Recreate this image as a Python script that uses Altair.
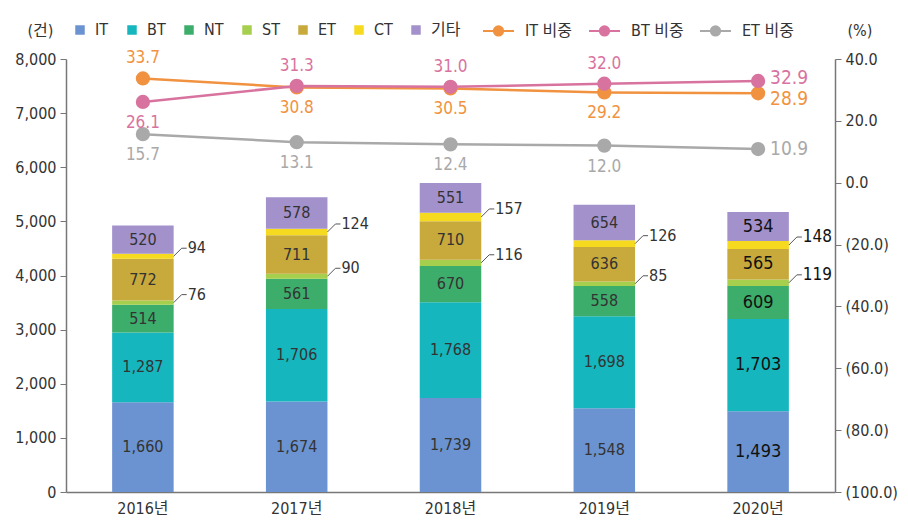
import altair as alt
import pandas as pd

years = ["2016년", "2017년", "2018년", "2019년", "2020년"]
categories = ["IT", "BT", "NT", "ST", "ET", "CT", "기타"]
it_vals = [1660, 1674, 1739, 1548, 1493]
bt_vals = [1287, 1706, 1768, 1698, 1703]
nt_vals = [514, 561, 670, 558, 609]
st_vals = [76, 90, 116, 85, 119]
et_vals = [772, 711, 710, 636, 565]
ct_vals = [94, 124, 157, 126, 148]
etc_vals = [520, 578, 551, 654, 534]
it_share = [33.7, 30.8, 30.5, 29.2, 28.9]
bt_share = [26.1, 31.3, 31.0, 32.0, 32.9]
et_share = [15.7, 13.1, 12.4, 12.0, 10.9]
bar_colors = ["#6b93d1", "#16b6bf", "#3dad6b", "#a6cf4d", "#c8a93c", "#f6da20", "#a391cc"]
line_series = ["IT 비중", "BT 비중", "ET 비중"]
line_colors = ["#f19241", "#d8739f", "#a9a9a9"]
it_pos = ["above", "below", "below", "below", "right_down"]
bt_pos = ["below", "above", "above", "above", "right_up"]
et_pos = ["below", "below", "below", "below", "right"]
outside_cats = ["ST", "CT"]

FONT = "DejaVu Sans Condensed, Roboto, Noto Sans CJK KR, sans-serif"
TXT = "#333333"

# ---- tables ----
series_vals = [it_vals, bt_vals, nt_vals, st_vals, et_vals, ct_vals, etc_vals]
rows = []
for yi, y in enumerate(years):
    base = 0
    for ci, c in enumerate(categories):
        v = series_vals[ci][yi]
        rows.append(dict(year=y, cat=c, value=v, low=base, high=base + v,
                         mid=base + v / 2, label=f"{v:,}",
                         outside=c in outside_cats, emph=(yi == len(years) - 1)))
        base += v
bar_df = pd.DataFrame(rows)

lrows = []
for name, vals, pos in zip(line_series, [it_share, bt_share, et_share], [it_pos, bt_pos, et_pos]):
    for yi, y in enumerate(years):
        lrows.append(dict(year=y, series=name, value=vals[yi], pos=pos[yi],
                          emph=(yi == len(years) - 1)))
line_df = pd.DataFrame(lrows)

x_scale = alt.Scale(domain=years, paddingInner=0.6, paddingOuter=0.3)
x_axis = alt.Axis(title=None, ticks=False, domainColor="#777777", domainWidth=1.5,
                  labelFontSize=16, labelColor=TXT, labelPadding=8, labelAngle=0)
y_scale = alt.Scale(domain=[0, 8000], nice=False)
yr_scale = alt.Scale(domain=[-100, 40], nice=False)

bar_color_scale = alt.Scale(domain=categories, range=bar_colors)
line_color_scale = alt.Scale(domain=line_series, range=line_colors)

# ---- left group: bars ----
bars = alt.Chart(bar_df).mark_bar().encode(
    x=alt.X("year:N", sort=years, scale=x_scale, axis=x_axis),
    y=alt.Y("low:Q", scale=y_scale,
            axis=alt.Axis(values=list(range(0, 8001, 1000)), format=",d", grid=False,
                          title="(건)", titleAngle=0, titleX=-39, titleY=-29,
                          titleAlign="left", titleBaseline="middle",
                          titleFontWeight="normal", titleFontSize=16, titleColor=TXT,
                          labelFontSize=16, labelColor=TXT, tickSize=6,
                          tickColor="#777777", domainColor="#777777", domainWidth=1.5,
                          labelPadding=4)),
    y2="high:Q",
    color=alt.Color("cat:N", scale=bar_color_scale,
                    legend=alt.Legend(title=None, orient="none", legendX=6, legendY=-37,
                                      direction="horizontal", symbolType="square",
                                      symbolSize=90, labelFontSize=16, labelColor=TXT,
                                      labelOffset=7, columnPadding=15,
                                      symbolStrokeWidth=0)),
)

inside_labels = alt.Chart(bar_df).transform_filter("!datum.outside").mark_text(
    baseline="middle", align="center").encode(
    x=alt.X("year:N", sort=years, scale=x_scale),
    y=alt.Y("mid:Q", scale=y_scale),
    text="label:N",
    color=alt.condition("datum.emph", alt.value("#111111"), alt.value(TXT)),
    size=alt.condition("datum.emph", alt.value(18), alt.value(16)),
)

leader_diag = alt.Chart(bar_df).transform_filter("datum.outside").mark_rule(
    color="#555555", strokeWidth=1, x2Offset=8, y2Offset=-8).encode(
    x=alt.X("year:N", sort=years, scale=x_scale, bandPosition=1),
    x2=alt.X2("year:N", bandPosition=1),
    y=alt.Y("mid:Q", scale=y_scale),
    y2="mid:Q",
)
leader_flat = alt.Chart(bar_df).transform_filter("datum.outside").mark_rule(
    color="#555555", strokeWidth=1, xOffset=8, yOffset=-8, x2Offset=13, y2Offset=-8).encode(
    x=alt.X("year:N", sort=years, scale=x_scale, bandPosition=1),
    x2=alt.X2("year:N", bandPosition=1),
    y=alt.Y("mid:Q", scale=y_scale),
    y2="mid:Q",
)
outside_labels = alt.Chart(bar_df).transform_filter("datum.outside").mark_text(
    baseline="middle", align="left", dx=14, dy=-8).encode(
    x=alt.X("year:N", sort=years, scale=x_scale, bandPosition=1),
    y=alt.Y("mid:Q", scale=y_scale),
    text="label:N",
    color=alt.condition("datum.emph", alt.value("#111111"), alt.value(TXT)),
    size=alt.condition("datum.emph", alt.value(17), alt.value(16)),
)

left = alt.layer(bars, inside_labels, leader_diag, leader_flat, outside_labels)

# ---- right group: share lines ----
yr_axis = alt.Axis(orient="right", values=list(range(-100, 41, 20)), grid=False,
                   labelExpr="datum.value < 0 ? '(' + format(-datum.value, '.1f') + ')' : format(datum.value, '.1f')",
                   title="(%)", titleAngle=0, titleX=12, titleY=-29, titleAlign="left",
                   titleBaseline="middle", titleFontWeight="normal", titleFontSize=16,
                   titleColor=TXT, labelFontSize=16, labelColor=TXT, tickSize=6,
                   tickColor="#777777", domainColor="#777777", domainWidth=1.5,
                   labelPadding=4)

legend_path = "M-1,0L1,0M0.3,0A0.3,0.3,0,1,1,-0.3,0A0.3,0.3,0,1,1,0.3,0"
line_legend = alt.Legend(title=None, orient="none", legendX=416, legendY=-45,
                         direction="horizontal", symbolType=legend_path, symbolSize=961,
                         symbolStrokeWidth=2, labelFontSize=16, labelColor=TXT,
                         labelOffset=10, columnPadding=12)

lines = alt.Chart(line_df).mark_line(strokeWidth=2.5).encode(
    x=alt.X("year:N", sort=years, scale=x_scale),
    y=alt.Y("value:Q", scale=yr_scale, axis=yr_axis),
    stroke=alt.Stroke("series:N", scale=line_color_scale, legend=line_legend),
)
points = alt.Chart(line_df).mark_circle(size=150, opacity=1, strokeWidth=2).encode(
    x=alt.X("year:N", sort=years, scale=x_scale),
    y=alt.Y("value:Q", scale=yr_scale),
    fill=alt.Fill("series:N", scale=line_color_scale, legend=line_legend),
    stroke=alt.Stroke("series:N", scale=line_color_scale, legend=line_legend),
)


def share_labels(pos, **kw):
    return alt.Chart(line_df).transform_filter(f"datum.pos == '{pos}'").mark_text(
        baseline="middle", **kw).encode(
        x=alt.X("year:N", sort=years, scale=x_scale),
        y=alt.Y("value:Q", scale=yr_scale),
        text=alt.Text("value:Q", format=".1f"),
        color=alt.Color("series:N", scale=line_color_scale, legend=None),
        size=alt.condition("datum.emph", alt.value(19), alt.value(17)),
    )


right = alt.layer(lines, points,
                  share_labels("above", align="center", dy=-20),
                  share_labels("below", align="center", dy=21),
                  share_labels("right", align="left", dx=12),
                  share_labels("right_up", align="left", dx=12, dy=-3),
                  share_labels("right_down", align="left", dx=12, dy=6))

chart = alt.layer(left, right).resolve_scale(
    y="independent", color="independent"
).properties(
    width=769, height=433,
    autosize=alt.AutoSizeParams(type="none"),
    padding={"left": 58, "top": 51, "right": 65, "bottom": 26},
).configure(font=FONT).configure_view(stroke=None)

chart.save("out.html", embed_options={"renderer": "svg", "actions": False})
